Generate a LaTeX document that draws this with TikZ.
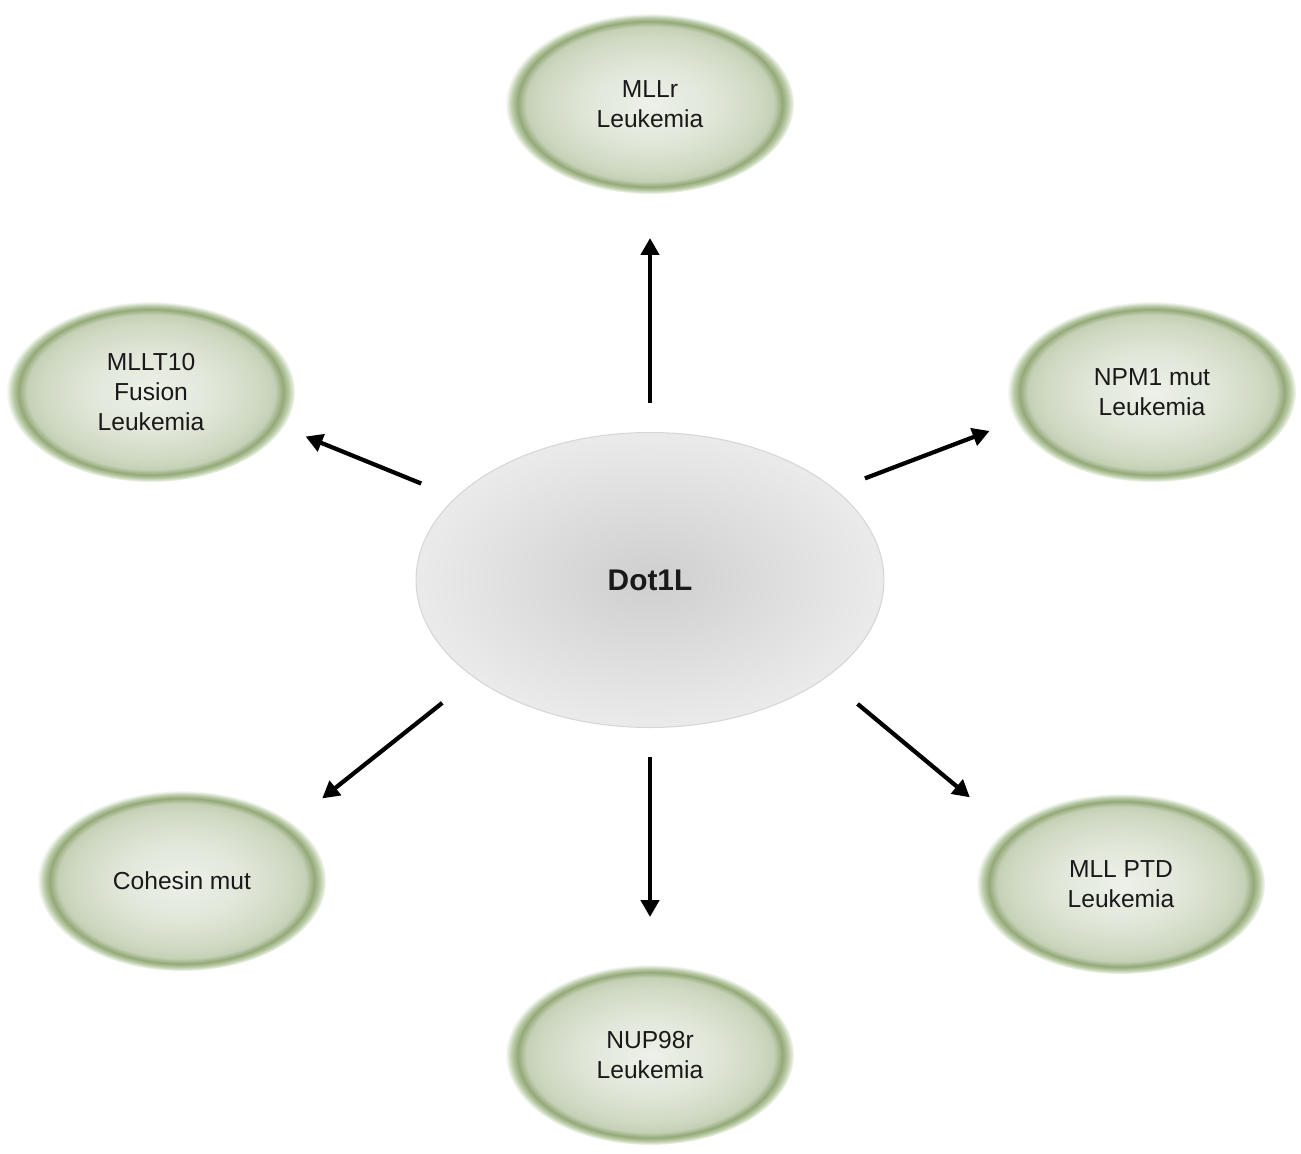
\documentclass[tikz,border=0pt]{standalone}
\usepackage{fontspec}
\setmainfont{Liberation Sans}
\usetikzlibrary{arrows.meta,shapes.geometric}

\definecolor{textoOscuro}{RGB}{25,25,25}
\definecolor{bordeGris}{RGB}{214,214,214}

% Sombreado de las elipses verdes (anillo oscuro y halo)
\pgfdeclareradialshading{bolaVerde}{\pgfpoint{0bp}{0bp}}{%
  rgb(0bp)=(0.93,0.945,0.915);
  rgb(11bp)=(0.88,0.905,0.85);
  rgb(19bp)=(0.81,0.85,0.76);
  rgb(21.5bp)=(0.77,0.82,0.715);
  rgb(23bp)=(0.58,0.66,0.47);
  rgb(24bp)=(0.73,0.80,0.66);
  rgb(25bp)=(0.97,0.975,0.96);
  rgb(50bp)=(1,1,1)}
% Sombreado de la elipse central
\pgfdeclareradialshading{bolaGris}{\pgfpoint{0bp}{0bp}}{%
  rgb(0bp)=(0.81,0.81,0.81);
  rgb(25bp)=(0.92,0.92,0.92);
  rgb(50bp)=(0.92,0.92,0.92)}

\begin{document}
\begin{tikzpicture}[x=0.02cm, y=-0.02cm,
    enfermedad/.style={ellipse, minimum width=5.76cm, minimum height=3.6cm,
        inner sep=0pt, outer sep=0pt, shading=bolaVerde, align=center,
        font=\fontsize{14}{17}\selectfont, text=textoOscuro},
    central/.style={ellipse, minimum width=9.36cm, minimum height=5.9cm,
        outer sep=0pt, shading=bolaGris, draw=bordeGris, line width=0.6pt,
        font=\fontsize{17}{20}\selectfont\bfseries, text=textoOscuro},
    flecha/.style={-{Triangle[length=0.34cm,width=0.36cm]}, line width=0.085cm, black}]
    \useasboundingbox (0,0) rectangle (1301,1153);

    % Nodo central
    \node[central] (dot) at (650,580) {Dot1L};

    % Leucemias alrededor
    \node[enfermedad] (mllr) at (650,104) {MLLr\\Leukemia};
    \node[enfermedad] (mllt) at (151,392) {MLLT10\\Fusion\\Leukemia};
    \node[enfermedad] (npm) at (1152,392) {NPM1 mut\\Leukemia};
    \node[enfermedad] (cohesin) at (182,881) {Cohesin mut};
    \node[enfermedad] (nup) at (650,1055) {NUP98r\\Leukemia};
    \node[enfermedad] (ptd) at (1121,884) {MLL PTD\\Leukemia};

    % Flechas desde Dot1L
    \draw[flecha, shorten <=0.6cm, shorten >=0.88cm] (dot.north) -- (mllr.south);
    \draw[flecha, shorten <=0.75cm, shorten >=0.48cm] (dot.157.8) -- (mllt.345.4);
    \draw[flecha, shorten <=0.64cm, shorten >=0.56cm] (dot.26.3) -- (npm.192.3);
    \draw[flecha, shorten <=0.82cm, shorten >=0.78cm] (dot.209.1) -- (cohesin.28.5);
    \draw[flecha, shorten <=0.59cm, shorten >=0.96cm] (dot.south) -- (nup.north);
    \draw[flecha, shorten <=0.83cm, shorten >=0.98cm] (dot.331.5) -- (ptd.154.9);
\end{tikzpicture}
\end{document}
